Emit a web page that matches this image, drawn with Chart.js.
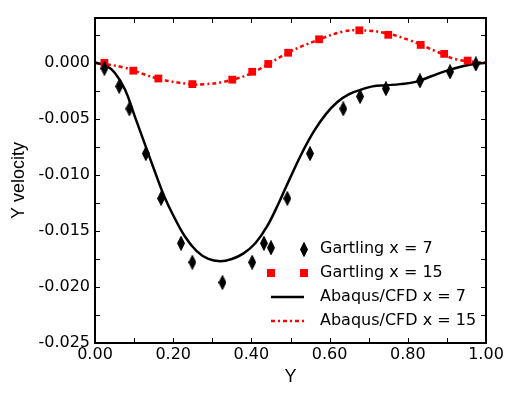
<!DOCTYPE html>
<html>
<head>
<meta charset="utf-8">
<script src="https://cdn.jsdelivr.net/npm/chart.js@4/dist/chart.umd.min.js"></script>
<style>
  html, body { margin: 0; padding: 0; background: #fff; }
  #wrap { width: 519px; height: 394px; }
</style>
</head>
<body>
<div id="wrap"><canvas id="chart" width="519" height="394"></canvas></div>
<script>
// Gartling x = 7 (diamonds)
const g7X = [0.024, 0.062, 0.088, 0.130, 0.169, 0.220, 0.249, 0.326, 0.402, 0.432, 0.450, 0.492, 0.550, 0.635, 0.678, 0.744, 0.831, 0.908, 0.974];
const g7Y = [-0.0005, -0.0021, -0.0041, -0.0081, -0.0121, -0.0161, -0.0178, -0.0196, -0.0178, -0.0161, -0.0165, -0.0121, -0.0081, -0.0041, -0.0030, -0.0023, -0.0016, -0.0008, -0.0001];

// Gartling x = 15 (squares)
const g15X = [0.024, 0.098, 0.162, 0.249, 0.351, 0.402, 0.443, 0.494, 0.573, 0.676, 0.750, 0.833, 0.893, 0.953];
const g15Y = [0.0, -0.0007, -0.0014, -0.0019, -0.0015, -0.0008, -0.0001, 0.0009, 0.0021, 0.0029, 0.0025, 0.0016, 0.0008, 0.0002];

// Abaqus/CFD x = 7 (solid black)
const a7X = [0, 0.026, 0.051, 0.077, 0.102, 0.128, 0.153, 0.177, 0.20, 0.23, 0.26, 0.29, 0.32, 0.35, 0.38, 0.41, 0.44, 0.47, 0.50, 0.53, 0.56, 0.59, 0.62, 0.65, 0.68, 0.71, 0.745, 0.78, 0.82, 0.86, 0.90, 0.94, 0.97, 1.0];
const a7Y = [0, -0.0002, -0.0009, -0.0024, -0.0048, -0.0073, -0.0097, -0.0119, -0.0136, -0.0155, -0.0168, -0.0175, -0.0177, -0.0175, -0.0170, -0.0161, -0.0146, -0.0125, -0.0102, -0.0080, -0.0061, -0.0046, -0.0035, -0.0028, -0.0024, -0.0021, -0.0020, -0.0019, -0.0017, -0.0012, -0.0007, -0.0003, -0.0001, 0];

// Abaqus/CFD x = 15 (red dash-dot)
const a15X = [0, 0.072, 0.16, 0.243, 0.28, 0.328, 0.396, 0.448, 0.499, 0.567, 0.635, 0.678, 0.737, 0.806, 0.874, 0.925, 1.0];
const a15Y = [0, -0.0004, -0.0014, -0.0019, -0.0019, -0.0017, -0.0010, 0.0, 0.0010, 0.0020, 0.0028, 0.0029, 0.0027, 0.0020, 0.0010, 0.0003, 0];

const seriesNames = ['Gartling x = 7', 'Gartling x = 15', 'Abaqus/CFD x = 7', 'Abaqus/CFD x = 15'];

const xMajor = ['0.00', '0.20', '0.40', '0.60', '0.80', '1.00'];
const yMajor = ['0.000', '-0.005', '-0.010', '-0.015', '-0.020', '-0.025'];

function zip(xs, ys) {
    return xs.map((x, i) => ({ x: x, y: ys[i] }));
}

// tall narrow diamond marker
function makeDiamond(w, h) {
    const c = document.createElement('canvas');
    c.width = w;
    c.height = h;
    const g = c.getContext('2d');
    g.fillStyle = '#000';
    g.strokeStyle = '#000';
    g.lineWidth = 1;
    g.beginPath();
    g.moveTo(w / 2, 0.5);
    g.lineTo(w - 0.5, h / 2);
    g.lineTo(w / 2, h - 0.5);
    g.lineTo(0.5, h / 2);
    g.closePath();
    g.fill();
    g.stroke();
    return c;
}
const diamond = makeDiamond(8, 15);

const RED = '#ff0000';
const redDash = [4, 3, 2, 3];
const tickFont = '"DejaVu Sans"';

// inward ticks on all four sides plus frame
const frameTicks = {
    id: 'frameTicks',
    afterDatasetsDraw(chart) {
        const ctx = chart.ctx;
        const a = chart.chartArea;
        const xs = chart.scales.x;
        const ys = chart.scales.y;
        ctx.save();
        ctx.strokeStyle = '#000';
        ctx.lineWidth = 1;
        xs.ticks.forEach(t => {
            const px = Math.round(xs.getPixelForValue(t.value)) + 0.5;
            ctx.beginPath();
            ctx.moveTo(px, a.bottom);
            ctx.lineTo(px, a.bottom - 5);
            ctx.moveTo(px, a.top);
            ctx.lineTo(px, a.top + 5);
            ctx.stroke();
        });
        ys.ticks.forEach(t => {
            const py = Math.round(ys.getPixelForValue(t.value)) + 0.5;
            ctx.beginPath();
            ctx.moveTo(a.left, py);
            ctx.lineTo(a.left + 5, py);
            ctx.moveTo(a.right, py);
            ctx.lineTo(a.right - 5, py);
            ctx.stroke();
        });
        ctx.lineWidth = 2;
        ctx.strokeRect(a.left, a.top, a.right - a.left, a.bottom - a.top);
        ctx.restore();
    }
};

// legend inside the plot, bottom right
const insideLegend = {
    id: 'insideLegend',
    afterDraw(chart) {
        const ctx = chart.ctx;
        const rows = [249, 273, 297, 321];
        const s1 = 271, s2 = 304, tx = 320;
        ctx.save();
        ctx.font = '16px ' + tickFont;
        ctx.fillStyle = '#000';
        ctx.textBaseline = 'middle';
        ctx.drawImage(diamond, s2 - 4, rows[0] - 7);
        ctx.fillStyle = RED;
        ctx.fillRect(s1 - 4, rows[1] - 4, 8, 8);
        ctx.fillRect(s2 - 4, rows[1] - 4, 8, 8);
        ctx.strokeStyle = '#000';
        ctx.lineWidth = 2.5;
        ctx.beginPath();
        ctx.moveTo(s1, rows[2]);
        ctx.lineTo(s2, rows[2]);
        ctx.stroke();
        ctx.strokeStyle = RED;
        ctx.setLineDash(redDash);
        ctx.beginPath();
        ctx.moveTo(s1, rows[3]);
        ctx.lineTo(s2, rows[3]);
        ctx.stroke();
        ctx.setLineDash([]);
        ctx.fillStyle = '#000';
        seriesNames.forEach((n, i) => ctx.fillText(n, tx, rows[i]));
        ctx.restore();
    }
};

new Chart(document.getElementById('chart'), {
    type: 'scatter',
    data: {
        datasets: [
            {
                label: seriesNames[0],
                data: zip(g7X, g7Y),
                pointStyle: diamond,
                showLine: false,
                order: 1
            },
            {
                label: seriesNames[1],
                data: zip(g15X, g15Y),
                pointStyle: 'rect',
                pointRadius: 5.5,
                backgroundColor: RED,
                borderColor: RED,
                borderWidth: 0,
                showLine: false,
                order: 2
            },
            {
                label: seriesNames[2],
                data: zip(a7X, a7Y),
                showLine: true,
                pointRadius: 0,
                borderColor: '#000',
                borderWidth: 2.5,
                tension: 0.4,
                order: 3
            },
            {
                label: seriesNames[3],
                data: zip(a15X, a15Y),
                showLine: true,
                pointRadius: 0,
                borderColor: RED,
                borderWidth: 2.5,
                borderDash: redDash,
                tension: 0.4,
                order: 4
            }
        ]
    },
    options: {
        responsive: false,
        animation: false,
        layout: { padding: { left: 0, right: 33, top: 18, bottom: 0 } },
        plugins: {
            legend: { display: false },
            tooltip: { enabled: false }
        },
        scales: {
            x: {
                type: 'linear',
                min: 0,
                max: 1,
                grid: { display: false, drawTicks: false },
                border: { display: false },
                ticks: {
                    stepSize: 0.1,
                    autoSkip: false,
                    maxRotation: 0,
                    padding: 2,
                    color: '#000',
                    font: { family: 'DejaVu Sans', size: 16 },
                    callback: (v) => {
                        const s = v.toFixed(2);
                        return xMajor.includes(s) ? s : '';
                    }
                },
                title: {
                    display: true,
                    text: 'Y',
                    color: '#000',
                    font: { family: 'Liberation Sans', size: 18 },
                    padding: { top: 0, bottom: 6 }
                },
                afterFit: (s) => { s.height = 51; }
            },
            y: {
                type: 'linear',
                min: -0.025,
                max: 0.004,
                grid: { display: false, drawTicks: false },
                border: { display: false },
                afterBuildTicks: (s) => {
                    const t = [];
                    for (let i = 0; i <= 11; i++) t.push({ value: -0.025 + i * 0.0025 });
                    s.ticks = t;
                },
                ticks: {
                    autoSkip: false,
                    padding: 5,
                    color: '#000',
                    font: { family: 'DejaVu Sans', size: 16 },
                    callback: (v) => {
                        const s = v.toFixed(3);
                        const m = s === '-0.000' ? '0.000' : s;
                        return yMajor.includes(m) ? m : '';
                    }
                },
                title: {
                    display: true,
                    text: 'Y velocity',
                    color: '#000',
                    font: { family: 'Liberation Sans', size: 18 },
                    padding: { top: 8, bottom: 0 }
                },
                afterFit: (s) => { s.width = 95; }
            }
        }
    },
    plugins: [frameTicks, insideLegend]
});
</script>
</body>
</html>
